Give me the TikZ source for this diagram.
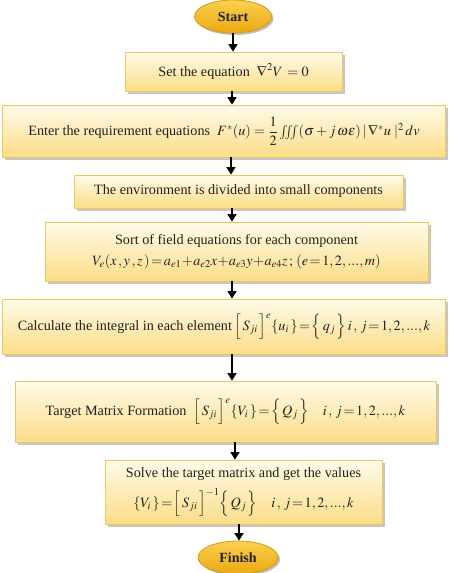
\documentclass[tikz,border=0pt]{standalone}
\usepackage{amsmath}
\usepackage{mathptmx}
\usepackage{fontspec}
\setmainfont{Liberation Serif}
\usetikzlibrary{shapes.geometric,shadows,arrows.meta}
\definecolor{boxborder}{HTML}{F2C65E}
\definecolor{boxtop}{HTML}{FFFBEA}
\definecolor{boxbot}{HTML}{FBDD86}
\definecolor{termborder}{HTML}{D49A12}
\definecolor{termtop}{HTML}{FAD050}
\definecolor{termbot}{HTML}{EBA812}
\definecolor{txt}{HTML}{222222}
\begin{document}
\begin{tikzpicture}[x=1pt,y=-1pt,
  box/.style={draw=boxborder, line width=0.8pt, top color=boxtop, bottom color=boxbot,
    drop shadow={shadow xshift=2.5pt,shadow yshift=-2.5pt,fill=black,opacity=0.22},
    inner sep=0pt, align=center, font=\fontsize{14.2}{21}\selectfont, text=txt},
  term/.style={ellipse, draw=termborder, line width=0.8pt, top color=termtop, bottom color=termbot,
    drop shadow={shadow xshift=2pt,shadow yshift=-2pt,fill=black,opacity=0.25},
    inner sep=0pt, font=\fontsize{14}{16}\selectfont\bfseries, text=txt},
  arr/.style={-{Triangle[width=9pt,length=7.5pt]}, line width=1.6pt, black}]
\useasboundingbox (0,0) rectangle (449,573);

\node[term, minimum width=77pt, minimum height=33pt] (start) at (233,16.5) {Start};

\node[box, minimum width=217pt, minimum height=39pt] (b1) at (233.5,71.5)
  {Set the equation \ $\nabla^2 V \, =0$};

\node[box, minimum width=443pt, minimum height=52pt] (b2) at (224,131)
  {Enter the requirement equations \ $F^{*}(u) = \dfrac{1}{2}\int\!\!\!\int\!\!\!\int(\sigma + j\,\omega\varepsilon)\,|\,\nabla^{*}u\;|^{2}\,dv$};

\node[box, minimum width=329pt, minimum height=33pt] (b3) at (238.5,191.5)
  {The environment is divided into small components};

\node[box, minimum width=383pt, minimum height=59pt] (b4) at (236.5,251.5)
  {Sort of field equations for each component\\
   $V_e(x\,,y\,,z\,)\!=\!a_{e1}\!+\!a_{e2}x\!+\!a_{e3}y\!+\!a_{e4}z\,;\,(e\!=\!1,2,...,m)$};

\node[box, minimum width=443pt, minimum height=55pt] (b5) at (224,326.5)
  {Calculate the integral in each element\,$\Big[\,S_{ji}\,\Big]^{e}\{u_i\,\}\!=\!\Big\{\,q_j\,\Big\}\,i\,,\,j\!=\!1,2,...,k$};

\node[box, minimum width=421pt, minimum height=61pt] (b6) at (225.5,411.5)
  {Target Matrix Formation \ $\Big[\,S_{ji}\,\Big]^{e}\{V_i\,\}\!=\!\Big\{\,Q_j\,\Big\}\quad i\,,\,j\!=\!1,2,...,k$};

\node[box, minimum width=277pt, minimum height=64pt] (b7) at (243.5,492)
  {Solve the target matrix and get the values\\[7pt]
   $\{V_i\,\}\!=\!\Big[\,S_{ji}\,\Big]^{-1}\Big\{\,Q_j\,\Big\}\quad i\,,\,j\!=\!1,2,...,k$};

\node[term, minimum width=80pt, minimum height=33pt] (finish) at (238,557.5) {Finish};

\draw[arr] (start.south) -- (start.south |- b1.north);
\draw[arr] ([xshift=-1.5pt]b1.south) -- ([xshift=-1.5pt]b1.south |- b2.north);
\draw[arr] ([xshift=7pt]b2.south) -- ([xshift=7pt]b2.south |- b3.north);
\draw[arr] ([xshift=-6.5pt]b3.south) -- ([xshift=-6.5pt]b3.south |- b4.north);
\draw[arr] ([xshift=-4.5pt]b4.south) -- ([xshift=-4.5pt]b4.south |- b5.north);
\draw[arr] ([xshift=8pt]b5.south) -- ([xshift=8pt]b5.south |- b6.north);
\draw[arr] ([xshift=9.5pt]b6.south) -- ([xshift=9.5pt]b6.south |- b7.north);
\draw[arr] ([xshift=-4.5pt]b7.south) -- ([xshift=-4.5pt]b7.south |- finish.north);
\end{tikzpicture}
\end{document}
